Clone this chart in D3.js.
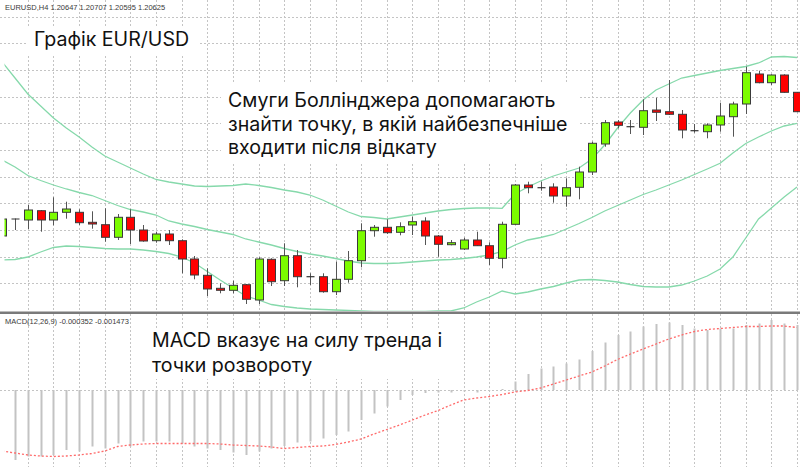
<!DOCTYPE html>
<html><head><meta charset="utf-8">
<script src="https://cdn.jsdelivr.net/npm/d3@7"></script>
<style>body{margin:0;background:#fff}svg{display:block}</style>
</head><body>
<svg id="c" width="800" height="467"></svg>
<script>
// ---- data (EURUSD H4) ----
const opens = [1.2014,1.2031,1.2030,1.20393,1.2030,1.20377,1.20377,1.20277,1.20253,1.20127,1.20327,1.2020,1.20093,1.2016,1.20093,1.1991,1.19747,1.19617,1.19597,1.19653,1.1950,1.19907,1.19693,1.19943,1.19733,1.19733,1.19583,1.19707,1.19893,1.20193,1.20227,1.20177,1.2025,1.2029,1.2014,1.20053,1.2001,1.2010,1.20043,1.19917,1.20257,1.2065,1.20623,1.2063,1.2054,1.20627,1.2078,1.2106,1.2128,1.21233,1.21227,1.2140,1.21383,1.21357,1.21193,1.21183,1.2125,1.21333,1.2146,1.2176,1.21673,1.2175,1.21577];
const highs = [1.2033,1.20315,1.2045,1.2040,1.20527,1.20483,1.20407,1.20387,1.20417,1.2036,1.20407,1.2025,1.20183,1.2020,1.20107,1.1994,1.19817,1.19667,1.19693,1.1966,1.19927,1.19917,1.20067,1.2000,1.19767,1.19767,1.19883,1.1999,1.20267,1.2025,1.20307,1.20277,1.20333,1.20327,1.2015,1.2010,1.20123,1.20183,1.20077,1.20283,1.2066,1.20683,1.20683,1.20667,1.20717,1.20833,1.21083,1.2130,1.2130,1.2130,1.21507,1.21523,1.2170,1.2140,1.2126,1.21267,1.21473,1.21483,1.21833,1.21793,1.21757,1.21757,1.2158];
const lows = [1.2012,1.2020,1.2021,1.20183,1.20247,1.20313,1.2025,1.20213,1.20083,1.2010,1.2006,1.20083,1.20073,1.2005,1.19767,1.19707,1.1954,1.19567,1.19567,1.1946,1.1946,1.1964,1.1964,1.19627,1.1965,1.19573,1.1955,1.19673,1.19827,1.20133,1.2016,1.20147,1.2015,1.2005,1.19933,1.20047,1.2000,1.2004,1.1985,1.19817,1.2025,1.20567,1.20593,1.20473,1.20433,1.20507,1.2075,1.21033,1.21217,1.2116,1.2115,1.2129,1.2135,1.21117,1.21173,1.21117,1.21183,1.21133,1.2136,1.21667,1.2165,1.21573,1.2138];
const closes = [1.2031,1.2031,1.2040,1.2030,1.20377,1.2041,1.20273,1.2026,1.20127,1.20327,1.2020,1.2009,1.2016,1.20093,1.1991,1.1975,1.1961,1.19597,1.19647,1.19507,1.1991,1.19683,1.19943,1.19733,1.19733,1.19583,1.19707,1.19893,1.20193,1.20227,1.20173,1.20233,1.20283,1.2014,1.20057,1.20073,1.2010,1.20043,1.19917,1.20257,1.2065,1.20623,1.20623,1.2054,1.20623,1.2078,1.21067,1.21273,1.21247,1.21233,1.21393,1.21377,1.21357,1.2120,1.21193,1.2125,1.2134,1.2146,1.21773,1.21673,1.2175,1.21577,1.21383];

const bbUpper = [1.2188,1.2172,1.2156,1.2144,1.2132,1.2122,1.2113,1.2103,1.2094,1.2088,1.2082,1.2076,1.20705,1.2068,1.2066,1.2064,1.20635,1.2064,1.20645,1.2066,1.20645,1.20625,1.2060,1.2058,1.2055,1.2050,1.2044,1.2038,1.20335,1.20325,1.2031,1.2033,1.2035,1.2037,1.2039,1.20405,1.20415,1.2042,1.20422,1.20417,1.2056,1.2063,1.2069,1.2074,1.2078,1.2082,1.2091,1.2105,1.2122,1.2137,1.2150,1.2160,1.2166,1.2172,1.21745,1.2177,1.21795,1.21815,1.21835,1.2187,1.2193,1.21935,1.21925];
const bbMiddle = [1.2090,1.2083,1.20745,1.20695,1.2065,1.2061,1.20575,1.20545,1.20495,1.20445,1.20405,1.2038,1.2035,1.2029,1.2026,1.20235,1.20205,1.2018,1.20155,1.2011,1.2008,1.2005,1.20015,1.19985,1.1996,1.1994,1.19915,1.1989,1.1987,1.19865,1.19865,1.1987,1.1988,1.1989,1.1990,1.19905,1.19915,1.1993,1.1995,1.19985,1.2005,1.2010,1.20125,1.20155,1.2021,1.20265,1.20325,1.2039,1.20445,1.2050,1.20555,1.2060,1.2065,1.2070,1.20755,1.2081,1.20867,1.2097,1.21065,1.2113,1.2119,1.2124,1.21267];
const bbLower = [1.1990,1.19905,1.1993,1.1998,1.20025,1.2004,1.20035,1.20025,1.20015,1.2001,1.2001,1.2000,1.19985,1.19965,1.1993,1.1987,1.19785,1.1970,1.1962,1.1954,1.1950,1.19455,1.19435,1.1942,1.1941,1.19405,1.1940,1.19395,1.1939,1.19385,1.19385,1.19385,1.19385,1.19385,1.1939,1.1939,1.1942,1.1948,1.1953,1.1959,1.1956,1.1958,1.1961,1.19635,1.1967,1.1970,1.19705,1.19695,1.1968,1.19655,1.19635,1.1963,1.1963,1.1965,1.1969,1.1974,1.1981,1.1993,1.2012,1.2031,1.2042,1.2053,1.2063];

const macdHist = [-0.00140,-0.00140,-0.00133,-0.00133,-0.00130,-0.00120,-0.00123,-0.00113,-0.00117,-0.00107,-0.00113,-0.00103,-0.00103,-0.00103,-0.00107,-0.00113,-0.00117,-0.00120,-0.00125,-0.00130,-0.00123,-0.00117,-0.00112,-0.00105,-0.00103,-0.00097,-0.00090,-0.00083,-0.00060,-0.00047,-0.00033,-0.00020,-0.00010,-0.00006,-0.00005,-0.00005,-0.00003,-0.00005,-0.00001,0.00002,0.00017,0.00032,0.00043,0.00047,0.00053,0.00061,0.00078,0.00095,0.00110,0.00117,0.00127,0.00132,0.00135,0.00130,0.00123,0.00120,0.00123,0.00123,0.00130,0.00133,0.00140,0.00133,0.00130];
const macdSignal = [-0.00122,-0.00126,-0.00130,-0.00132,-0.00133,-0.00132,-0.00130,-0.00127,-0.00122,-0.00113,-0.00110,-0.00108,-0.00107,-0.00107,-0.00107,-0.00107,-0.00107,-0.00108,-0.00110,-0.00111,-0.00112,-0.00114,-0.00117,-0.00115,-0.00113,-0.00112,-0.00109,-0.00104,-0.00098,-0.00088,-0.00079,-0.00070,-0.00060,-0.00050,-0.00041,-0.00030,-0.00020,-0.00016,-0.00013,-0.00009,-0.00004,-0.00001,0.00004,0.00012,0.00020,0.00028,0.00036,0.00048,0.00061,0.00072,0.00082,0.00092,0.00102,0.00110,0.00117,0.00121,0.00123,0.00125,0.00127,0.00127,0.00128,0.00128,0.00125];

const gridLevels = [1.19667,1.19933,1.20200,1.20467,1.20733,1.21000,1.21267,1.21533,1.21800,1.22067,1.22333];
const headerText = "EURUSD,H4  1.20647 1.20707 1.20595 1.20625";
const macdLabel = "MACD(12,26,9) -0.000352 -0.001473";
const titleText = "Графік EUR/USD";
const note1 = ["Смуги Боллінджера допомагають", "знайти точку, в якій найбезпечніше", "входити після відкату"];
const note2 = ["MACD вказує на силу тренда і", "точки розвороту"];

// ---- layout ----
const W = 800, H = 467;
const svg = d3.select("#c");
const n = closes.length;
const x = d3.scaleLinear().domain([0, n - 1]).range([2.2, 797]);
const y = d3.scaleLinear().domain([1.1950, 1.2250]).range([300, 0]);
const yM = d3.scaleLinear().domain([-0.0014, 0.0014]).range([460, 320]);
const idx = d3.range(n);
const gridIdx = d3.range(2, n, 2);

const defs = svg.append("defs");
defs.append("clipPath").attr("id", "clipTop").append("rect").attr("x", 4.5).attr("y", 0).attr("width", W).attr("height", 311);
defs.append("clipPath").attr("id", "clipBot").append("rect").attr("x", 4.5).attr("y", 314).attr("width", W).attr("height", H - 314);

const gridColor = "#c4c4c4";
const gTop = svg.append("g");
gTop.selectAll("line.h").data(gridLevels).join("line")
  .attr("x1", 0).attr("x2", W).attr("y1", d => Math.round(y(d)) + 0.5).attr("y2", d => Math.round(y(d)) + 0.5)
  .attr("stroke", gridColor).attr("stroke-dasharray", "2,2").attr("stroke-width", 1);
gTop.selectAll("line.v").data(gridIdx).join("line")
  .attr("x1", d => Math.round(x(d)) + 0.5).attr("x2", d => Math.round(x(d)) + 0.5).attr("y1", 0).attr("y2", 311)
  .attr("stroke", gridColor).attr("stroke-dasharray", "2,2").attr("stroke-width", 1);
const gBot = svg.append("g");
gBot.selectAll("line.v").data(gridIdx).join("line")
  .attr("x1", d => Math.round(x(d)) + 0.5).attr("x2", d => Math.round(x(d)) + 0.5).attr("y1", 314).attr("y2", H)
  .attr("stroke", gridColor).attr("stroke-dasharray", "2,2").attr("stroke-width", 1);
gBot.append("line").attr("x1", 0).attr("x2", W).attr("y1", yM(0) + 0.5).attr("y2", yM(0) + 0.5)
  .attr("stroke", gridColor).attr("stroke-dasharray", "2,2").attr("stroke-width", 1);

// bands
const topG = svg.append("g").attr("clip-path", "url(#clipTop)");
const bandColor = "#86d9ab";
[bbUpper, bbMiddle, bbLower].forEach(arr => {
  topG.append("path").datum(idx)
    .attr("d", d3.line().x(i => x(i)).y(i => y(arr[i])))
    .attr("fill", "none").attr("stroke", bandColor).attr("stroke-width", 1.3);
});

// candles
const bw = 8;
const cg = topG.append("g");
cg.selectAll("line.w").data(idx).join("line")
  .attr("x1", i => Math.round(x(i)) + 0.5).attr("x2", i => Math.round(x(i)) + 0.5)
  .attr("y1", i => y(highs[i])).attr("y2", i => y(lows[i]))
  .attr("stroke", "#555").attr("stroke-width", 1);
cg.selectAll("rect.b").data(idx.filter(i => opens[i] !== closes[i])).join("rect")
  .attr("x", i => Math.round(x(i)) + 0.5 - bw / 2)
  .attr("width", bw)
  .attr("y", i => y(Math.max(opens[i], closes[i])))
  .attr("height", i => Math.max(1, Math.abs(y(opens[i]) - y(closes[i]))))
  .attr("fill", i => closes[i] > opens[i] ? "#7cfc00" : "#ff0000")
  .attr("stroke", "#3a3a3a").attr("stroke-width", 1);
cg.selectAll("line.d").data(idx.filter(i => opens[i] === closes[i])).join("line")
  .attr("x1", i => Math.round(x(i)) + 0.5 - bw / 2).attr("x2", i => Math.round(x(i)) + 0.5 + bw / 2)
  .attr("y1", i => y(closes[i])).attr("y2", i => y(closes[i]))
  .attr("stroke", "#333").attr("stroke-width", 1.2);

// separator
svg.append("rect").attr("x", 0).attr("y", 311.5).attr("width", W).attr("height", 2.5).attr("fill", "#7a7a7a");

// MACD
const botG = svg.append("g").attr("clip-path", "url(#clipBot)");
botG.selectAll("rect.h").data(idx).join("rect")
  .attr("x", i => Math.round(x(i)) - 0.5).attr("width", 2)
  .attr("y", i => Math.min(yM(0), yM(macdHist[i])))
  .attr("height", i => Math.abs(yM(macdHist[i]) - yM(0)))
  .attr("fill", "#c3c3c3");
botG.append("path").datum(idx)
  .attr("d", d3.line().x(i => x(i)).y(i => yM(macdSignal[i])))
  .attr("fill", "none").attr("stroke", "#ff6a6a").attr("stroke-width", 1.3).attr("stroke-dasharray", "2,2");

// labels
svg.append("text").attr("x", 5).attr("y", 10).text(headerText)
  .attr("font-family", "Liberation Sans, Arial, sans-serif").attr("font-size", 7.5).attr("fill", "#3a3a3a");
svg.append("text").attr("x", 5).attr("y", 323.5).text(macdLabel)
  .attr("font-family", "Liberation Sans, Arial, sans-serif").attr("font-size", 7.5).attr("fill", "#3a3a3a");

const FONT = "Inter, Roboto, sans-serif";
const FS = 19.6;
function box(x0, y0, w, h) {
  svg.append("rect").attr("x", x0).attr("y", y0).attr("width", w).attr("height", h).attr("fill", "#fff");
}
box(28, 26, 172, 28);
box(221, 82, 357, 80);
box(146, 329, 306, 50);

svg.append("text").attr("x", 34).attr("y", 45.5).text(titleText)
  .attr("font-family", FONT).attr("font-size", FS).attr("fill", "#111");
note1.forEach((t, k) => {
  svg.append("text").attr("x", 228).attr("y", 107 + k * 23.5).text(t)
    .attr("font-family", FONT).attr("font-size", FS).attr("fill", "#111");
});
note2.forEach((t, k) => {
  svg.append("text").attr("x", 152).attr("y", 347 + k * 25).text(t)
    .attr("font-family", FONT).attr("font-size", FS).attr("fill", "#111");
});
</script>
</body></html>
